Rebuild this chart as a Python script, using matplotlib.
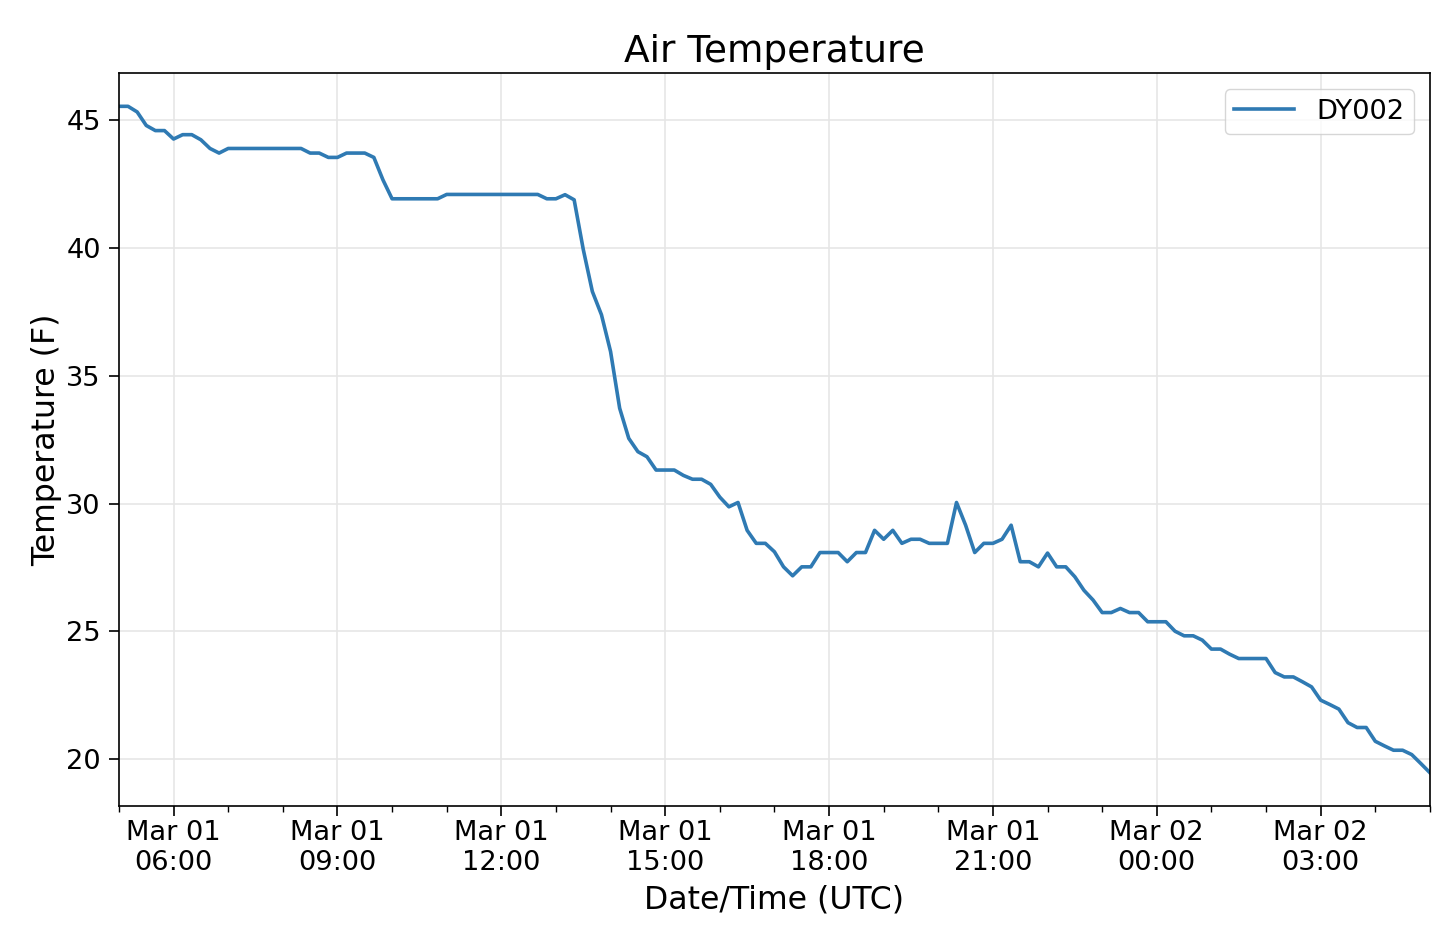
import matplotlib
matplotlib.use('Agg')
import matplotlib.pyplot as plt
import matplotlib.dates as mdates
import pandas as pd

# 10-minute observations, Mar 01 05:00 UTC to Mar 02 05:00 UTC
start_time = '2019-03-01 05:00'
interval = '10min'
station = 'DY002'

temps_f = [
    45.55, 45.55, 45.33, 44.80, 44.60, 44.60, 44.27, 44.44, 44.44, 44.24,
    43.90, 43.72, 43.90, 43.90, 43.90, 43.90, 43.90, 43.90, 43.90, 43.90,
    43.90, 43.72, 43.72, 43.55, 43.55, 43.72, 43.72, 43.72, 43.55, 42.67,
    41.93, 41.93, 41.93, 41.93, 41.93, 41.93, 42.10, 42.10, 42.10, 42.10,
    42.10, 42.10, 42.10, 42.10, 42.10, 42.10, 42.10, 41.93, 41.93, 42.09,
    41.89, 39.95, 38.30, 37.39, 35.95, 33.73, 32.55, 32.03, 31.83, 31.31,
    31.31, 31.31, 31.10, 30.95, 30.95, 30.75, 30.25, 29.87, 30.04, 28.95,
    28.44, 28.44, 28.11, 27.52, 27.17, 27.52, 27.52, 28.08, 28.08, 28.08,
    27.72, 28.08, 28.08, 28.95, 28.60, 28.95, 28.44, 28.60, 28.60, 28.44,
    28.44, 28.44, 30.04, 29.15, 28.08, 28.44, 28.44, 28.60, 29.15, 27.72,
    27.72, 27.52, 28.06, 27.52, 27.52, 27.13, 26.60, 26.22, 25.73, 25.73,
    25.89, 25.73, 25.73, 25.37, 25.37, 25.37, 25.00, 24.82, 24.82, 24.65,
    24.30, 24.30, 24.10, 23.93, 23.93, 23.93, 23.93, 23.38, 23.21, 23.21,
    23.02, 22.82, 22.30, 22.13, 21.95, 21.42, 21.23, 21.23, 20.69, 20.51,
    20.34, 20.34, 20.17, 19.82, 19.46,
]

times = pd.date_range(start_time, periods=len(temps_f), freq=interval)
df = pd.DataFrame({'timestamp': times, station: temps_f})

fig = plt.figure(figsize=(14.4, 9.3), dpi=100)
ax = fig.add_axes([0.0826, 0.1333, 0.9104, 0.7882])

ax.plot(df['timestamp'], df[station], color='#2f7ab3', linewidth=2.6, label=station)

ax.set_xlim(df['timestamp'].iloc[0], df['timestamp'].iloc[-1])
ax.xaxis.set_major_locator(mdates.HourLocator(byhour=range(0, 24, 3)))
ax.xaxis.set_minor_locator(mdates.HourLocator())
ax.xaxis.set_major_formatter(mdates.DateFormatter('%b %d\n%H:%M'))

ax.grid(True, color='#e6e6e6', linewidth=1.2)
ax.set_axisbelow(True)
ax.tick_params(axis='both', which='major', labelsize=19.6, length=7, width=1.2, pad=6)
ax.tick_params(axis='x', which='major', pad=3)
ax.tick_params(axis='x', which='minor', length=4, width=1.0)
for spine in ax.spines.values():
    spine.set_linewidth(1.2)

ax.set_title('Air Temperature', fontsize=27, pad=8)
ax.set_xlabel('Date/Time (UTC)', fontsize=22.7, labelpad=6)
ax.set_ylabel('Temperature (F)', fontsize=22.7, labelpad=3)
ax.legend(loc='upper right', fontsize=19.6, borderpad=0.35, handlelength=2.2,
          borderaxespad=0.6)

fig.savefig('out.png', dpi=100)
plt.close()
